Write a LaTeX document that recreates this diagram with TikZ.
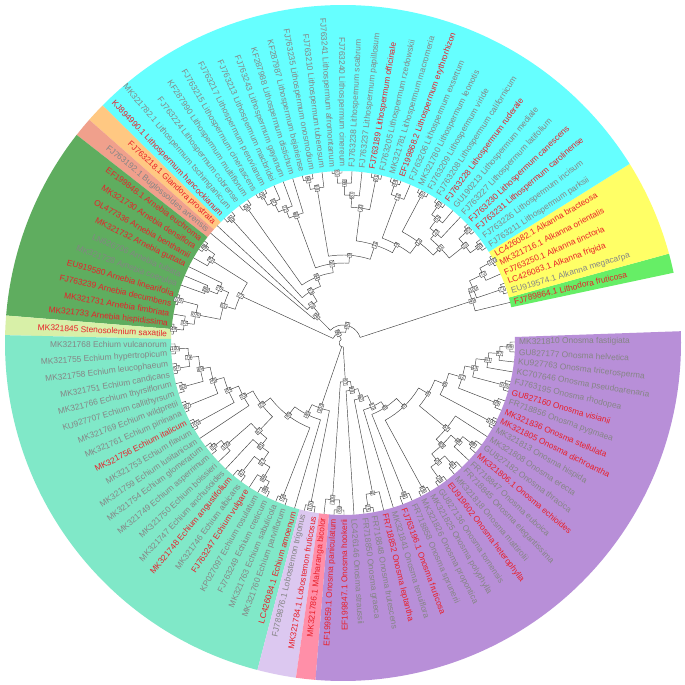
\documentclass[tikz,border=0pt]{standalone}
\usepackage{fontspec}
\newfontfamily\lfont{Liberation Sans}
\definecolor{cLd}{HTML}{66EE66}
\definecolor{cAl}{HTML}{FFFF66}
\definecolor{cLi}{HTML}{66FFFF}
\definecolor{cGl}{HTML}{FFC882}
\definecolor{cBu}{HTML}{F0A08C}
\definecolor{cAr}{HTML}{5FAD5F}
\definecolor{cSt}{HTML}{D8F0A8}
\definecolor{cEc}{HTML}{80E8C8}
\definecolor{cLb}{HTML}{DCC8F0}
\definecolor{cMa}{HTML}{FF8FA8}
\definecolor{cOn}{HTML}{B88FD8}
\definecolor{cR}{HTML}{E8202A}
\definecolor{cG}{HTML}{858585}
\tikzset{
  br/.style={draw=black!75,line width=0.45pt},
  bs/.style={draw=black!80,line width=0.3pt,fill=white,text=black!85,font=\lfont\fontsize{4.8}{5}\selectfont,inner sep=0.5pt},
  lab/.style={font=\lfont\fontsize{8.4}{9}\selectfont,inner sep=0pt}
}
\newcommand\sect[3]{\fill[#3] (#1:172pt) arc[start angle=#1,end angle=#2,radius=172pt] -- (#2:338pt) arc[start angle=#2,end angle=#1,radius=338pt] -- cycle;}
\gdef\bslist{}
\newcommand\bslab[4]{%
  \pgfmathtruncatemacro\fl{and(#1>90,#1<270)}%
  \ifnum\fl=1 \pgfmathsetmacro\rot{#1-180}\else\pgfmathsetmacro\rot{#1}\fi
  \node[bs,rotate=\rot] (bs#4) at (#1:#2pt) {#3};}
\newcommand\nd[5]{%
  \edef\aA{\csname ang#3\endcsname}%
  \edef\aB{\csname ang#4\endcsname}%
  \edef\rA{\csname rad#3\endcsname}%
  \edef\rB{\csname rad#4\endcsname}%
  \pgfmathsetmacro\aM{(\aA+\aB)/2}%
  \draw[br] (\aA:\rA pt) -- (\aA:#2pt) arc[start angle=\aA,end angle=\aB,radius=#2pt] -- (\aB:\rB pt);%
  \expandafter\xdef\csname ang#1\endcsname{\aM}%
  \expandafter\xdef\csname rad#1\endcsname{#2}%
  \xdef\bslist{\unexpanded\expandafter{\bslist}\noexpand\bslab{\aM}{#2}{#5}{#1}}%
}
\newcommand\ndx[4]{%
  \edef\aA{\csname ang#3\endcsname}%
  \edef\aB{\csname ang#4\endcsname}%
  \edef\rA{\csname rad#3\endcsname}%
  \edef\rB{\csname rad#4\endcsname}%
  \draw[br] (\aA:\rA pt) -- (\aA:#2pt) arc[start angle=\aA,end angle=\aB,radius=#2pt] -- (\aB:\rB pt);}
\newcommand\brx[2]{%
  \edef\aA{\csname ang#1\endcsname}%
  \edef\rA{\csname rad#1\endcsname}%
  \draw[br] (\aA:#2pt) -- (\aA:\rA pt);}
\begin{document}
\begin{tikzpicture}
\useasboundingbox (-343pt,-342pt) rectangle (342pt,343pt);
\fill[white] (-343pt,-342pt) rectangle (342pt,343pt);
% coloured bands
\sect{12}{15.333}{cLd}
\sect{15.333}{32}{cAl}
\sect{32}{135.333}{cLi}
\sect{135.333}{138.667}{cGl}
\sect{138.667}{142}{cBu}
\sect{142}{175.333}{cAr}
\sect{175.333}{178.667}{cSt}
\sect{178.667}{255.333}{cEc}
\sect{255.333}{262}{cLb}
\sect{262}{265.333}{cMa}
\sect{265.333}{362}{cOn}
% leaf positions
\foreach \i in {0,...,104}{\pgfmathsetmacro\a{13.667+3.3333*\i}\expandafter\xdef\csname angt\i\endcsname{\a}\expandafter\xdef\csname radt\i\endcsname{172}}
% Alkanna / Lithodora
\nd{Ka}{170}{t4}{t5}{100}
\nd{Kb}{156}{Ka}{t3}{72}
\nd{Kc}{168}{t1}{t2}{71}
\nd{Kd}{141}{Kb}{Kc}{100}
\nd{Ke}{136}{Kd}{t0}{49}
% Lithospermum etc.
\nd{La}{167}{t6}{t7}{68}
\nd{Lb}{168}{t8}{t9}{85}
\nd{Lc}{156}{La}{Lb}{22}
\nd{Ld}{168}{t12}{t13}{60}
\nd{Le}{156}{t11}{Ld}{51}
\nd{Lf}{144}{t10}{Le}{23}
\nd{Lg}{136}{Lc}{Lf}{31}
\nd{Lh}{168}{t14}{t15}{87}
\nd{Li}{126}{Lg}{Lh}{12}
\nd{Lj}{168}{t17}{t18}{44}
\nd{Lk}{156}{t16}{Lj}{11}
\nd{Ll}{112}{Li}{Lk}{4}
\nd{Lm}{168}{t19}{t20}{61}
\nd{Ln}{170}{t23}{t24}{83}
\nd{Lo}{160}{t22}{Ln}{69}
\nd{Lp}{148}{t21}{Lo}{87}
\nd{Lq}{136}{Lm}{Lp}{20}
\nd{Lr}{103}{Ll}{Lq}{11}
\nd{Ls}{167}{t26}{t27}{94}
\nd{Lt}{157}{t25}{Ls}{69}
\nd{Lu}{88}{Lr}{Lt}{9}
\nd{Lv}{168}{t31}{t32}{76}
\nd{Lw}{157}{t30}{Lv}{97}
\nd{Lx}{146}{t29}{Lw}{72}
\nd{Ly}{136}{t28}{Lx}{83}
\nd{Lz}{80}{Lu}{Ly}{10}
\nd{Ma}{166}{t33}{t34}{26}
\nd{Mb}{167}{t35}{t36}{49}
\nd{Mc}{71}{Lz}{Ma}{64}
\nd{Md}{61}{Mc}{Mb}{63}
\nd{Me}{49}{Md}{t37}{73}
\nd{Mf}{37.5}{Me}{t38}{96}
% Arnebia
\nd{Aa}{168}{t39}{t40}{99}
\nd{Ab}{156}{Aa}{t41}{92}
\nd{Ac}{147}{t43}{t44}{88}
\nd{Ad}{135}{t42}{Ac}{76}
\nd{Ae}{170}{t45}{t46}{100}
\nd{Af}{170}{t48}{t49}{49}
\nd{Ag}{160}{t47}{Af}{33}
\nd{Ah}{150}{Ae}{Ag}{100}
\nd{Ai}{125}{Ad}{Ah}{51}
\nd{Aj}{113}{Ab}{Ai}{77}
% Echium, Lobostemon
\nd{Ea}{168}{t50}{t51}{100}
\nd{Eb}{168}{t52}{t53}{97}
\nd{Ec}{155}{Ea}{Eb}{79}
\nd{Ed}{166}{t54}{t55}{83}
\nd{Ee}{145}{Ec}{Ed}{69}
\nd{Ef}{168}{t56}{t57}{67}
\nd{Eg}{135}{Ee}{Ef}{96}
\nd{Eh}{168}{t58}{t59}{100}
\nd{Ei}{124}{Eg}{Eh}{84}
\nd{Ej}{113}{Ei}{t60}{53}
\nd{Ek}{166}{t61}{t62}{82}
\nd{El}{156}{Ek}{t63}{100}
\nd{Em}{165}{t65}{t66}{47}
\nd{En}{166}{t68}{t69}{86}
\nd{Eo}{157}{t67}{En}{84}
\nd{Ep}{144}{Em}{Eo}{97}
\nd{Eq}{132}{t64}{Ep}{81}
\nd{Er}{122}{El}{Eq}{67}
\nd{Es}{102}{Ej}{Er}{26}
\nd{Et}{166}{t70}{t71}{54}
\nd{Eu}{91}{Es}{Et}{45}
\nd{Ev}{80}{Eu}{t72}{40}
\nd{Ex}{166}{t73}{t74}{100}
\nd{Ew}{69}{Ev}{Ex}{100}
% Maharanga, Onosma
\nd{Oa}{167}{t76}{t77}{88}
\nd{Ob}{157}{t75}{Oa}{100}
\nd{Oc}{167}{t79}{t80}{25}
\nd{Od}{153}{Oc}{t81}{4}
\nd{Oe}{164}{t83}{t84}{98}
\nd{Of}{167}{t85}{t86}{99}
\nd{Og}{167}{t87}{t88}{78}
\nd{Oh}{164}{t89}{t90}{91}
\nd{Oi}{152}{Og}{Oh}{25}
\nd{Oj}{165}{t92}{t93}{99}
\nd{Ok}{152}{t91}{Oj}{48}
\nd{Ol}{142}{Oi}{Ok}{89}
\nd{Om}{134}{Ol}{t94}{52}
\nd{On}{168}{t95}{t96}{100}
\nd{Oo}{165}{t97}{t98}{99}
\nd{Op}{167}{t99}{t100}{100}
\nd{Oq}{167}{t103}{t104}{99}
\nd{Or}{157}{t102}{Oq}{87}
\nd{Os}{146}{t101}{Or}{61}
\nd{Ot}{134}{Op}{Os}{43}
\nd{Ou}{124}{Oo}{Ot}{12}
\nd{Ov}{110}{On}{Ou}{8}
\nd{Ow}{99}{Om}{Ov}{4}
\nd{Ox}{88}{Of}{Ow}{5}
\nd{Oy}{77}{Oe}{Ox}{8}
\nd{Oz}{70}{t82}{Oy}{10}
\nd{OA}{58}{Od}{Oz}{62}
\nd{OB}{48}{t78}{OA}{99}
\nd{OC}{39}{Ob}{OB}{97}
% backbone
\nd{Na}{18}{Ke}{Mf}{90}
\nd{Nb}{11}{Na}{Aj}{96}
\ndx{Nr}{4}{Nb}{OC}
\brx{Ew}{4}
% bootstrap boxes
\bslist
% tip labels
\foreach \i/\c/\t in {
0/cR/FJ789864.1 Lithodora fruticosa,
1/cG/EU919574.1 Alkanna megacarpa,
2/cR/LC426083.1 Alkanna frigida,
3/cR/FJ763250.1 Alkanna tinctoria,
4/cR/MK321716.1 Alkanna orientalis,
5/cR/LC426082.1 Alkanna bracteosa,
6/cG/FJ763211 Lithospermum parksii,
7/cG/FJ763226 Lithospermum incisum,
8/cR/FJ763231 Lithospermum carolinense,
9/cR/FJ763230 Lithospermum canescens,
10/cG/FJ763227 Lithospermum latifolium,
11/cG/GU190213 Lithospermum mediale,
12/cR/FJ763228 Lithospermum ruderale,
13/cG/FJ763208 Lithospermum californicum,
14/cG/FJ763209 Lithospermum viride,
15/cG/MK321780 Lithospermum leonotis,
16/cG/FJ763206 Lithospermum exsertum,
17/cR/EF199868.2 Lithospermum erythrorhizon,
18/cG/MK321781 Lithospermum macromeria,
19/cG/FJ763205 Lithospermum rzedowskii,
20/cR/FJ763189 Lithospermum officinale,
21/cG/FJ763237 Lithospermum papillosum,
22/cG/FJ763238 Lithospermum scabrum,
23/cG/FJ763240 Lithospermum cinereum,
24/cG/FJ763241 Lithospermum afromontanum,
25/cG/FJ763210 Lithospermum tuberosum,
26/cG/FJ763235 Lithospermum onosmodium,
27/cG/KF287987 Lithospermum bejariense,
28/cG/KF287988 Lithospermum distichum,
29/cG/FJ763243 Lithospermum gayanum,
30/cG/FJ763213 Lithospermum macbridei,
31/cG/FJ763217 Lithospermum peruvianum,
32/cG/FJ763215 Lithospermum cinerascens,
33/cG/KF287990 Lithospermum multiflorum,
34/cG/FJ763224 Lithospermum cobrense,
35/cG/MK321782.1 Lithospermum tschimganicum,
36/cR/KJ894990.1 Lithospermum hancockianum,
37/cR/FJ763218.1 Glandora prostrata,
38/cG/FJ763192.1 Buglossoides arvensis,
39/cR/EF199848.1 Arnebia euchroma,
40/cR/MK321730 Arnebia densiflora,
41/cR/OL477336 Arnebia benthamii,
42/cR/MK321732 Arnebia guttata,
43/cG/LN626706 Arnebia tubata,
44/cG/MK321728 Arnebia coerulea,
45/cR/EU919580 Arnebia linearifolia,
46/cR/FJ763239 Arnebia decumbens,
47/cR/MK321731 Arnebia fimbriata,
48/cR/MK321733 Arnebia hispidissima,
49/cR/MK321845 Stenosolenium saxatile,
50/cG/MK321768 Echium vulcanorum,
51/cG/MK321755 Echium hypertropicum,
52/cG/MK321758 Echium leucophaeum,
53/cG/MK321751 Echium candicans,
54/cG/MK321766 Echium thyrsiflorum,
55/cG/KU927707 Echium callithyrsum,
56/cG/MK321769 Echium wildpretii,
57/cG/MK321761 Echium pininana,
58/cR/MK321756 Echium italicum,
59/cG/MK321753 Echium flavum,
60/cG/MK321759 Echium lusitanicum,
61/cG/MK321754 Echium glomeratum,
62/cG/MK321749 Echium asperrimum,
63/cG/MK321750 Echium boissieri,
64/cG/MK321747 Echium anchusoides,
65/cR/MK321748 Echium angustifolium,
66/cG/MK321746 Echium albicans,
67/cR/FJ763247 Echium vulgare,
68/cG/KP027097 Echium rosulatum,
69/cG/FJ763249 Echium creticum,
70/cG/MK321763 Echium sabulicola,
71/cG/MK321760 Echium parviflorum,
72/cR/LC426084.1 Echium amoenum,
73/cG/FJ789876.1 Lobostemon trigonus,
74/cR/MK321784.1 Lobostemon fruticosus,
75/cR/MK321786.1 Maharanga bicolor,
76/cR/EF199859.1 Onosma paniculatum,
77/cR/EF199847.1 Onosma hookerii,
78/cG/LC426146 Onosma straussii,
79/cG/FR718850 Onosma graeca,
80/cG/FR718848 Onosma frutescens,
81/cR/FR718852 Onosma leptantha,
82/cG/MK321841 Onosma tenuiflora,
83/cR/FJ763196.1 Onosma fruticosa,
84/cG/FR718858 Onosma sprunerii,
85/cG/MK321826 Onosma propontica,
86/cG/MK321825 Onosma polyphylla,
87/cG/GU827136 Onosma tornensis,
88/cR/EU919602 Onosma heterophylla,
89/cG/MK321818 Onosma mattirolii,
90/cG/FR718845 Onosma elegantissima,
91/cG/FR718847 Onosma euboica,
92/cR/MK321806.1 Onosma echioides,
93/cG/GU827182 Onosma thracica,
94/cG/MK321808 Onosma erecta,
95/cG/MK321813 Onosma hispida,
96/cR/MK321805 Onosma dichroantha,
97/cR/MK321836 Onosma stellulata,
98/cG/FR718856 Onosma pygmaea,
99/cR/GU827160 Onosma visianii,
100/cG/FJ763195 Onosma rhodopea,
101/cG/KC707646 Onosma pseudoarenaria,
102/cG/KU927763 Onosma tricerosperma,
103/cG/GU827177 Onosma helvetica,
104/cG/MK321810 Onosma fastigiata}{
  \pgfmathsetmacro\a{13.667+3.3333*\i}
  \pgfmathtruncatemacro\fl{and(\a>90,\a<270.6)}
  \ifnum\fl=1
    \pgfmathsetmacro\rot{\a-180}
    \node[lab,text=\c,anchor=east,rotate=\rot] (leaf\i) at (\a:176pt) {\t};
  \else
    \node[lab,text=\c,anchor=west,rotate=\a] (leaf\i) at (\a:176pt) {\t};
  \fi
}
\end{tikzpicture}
\end{document}
